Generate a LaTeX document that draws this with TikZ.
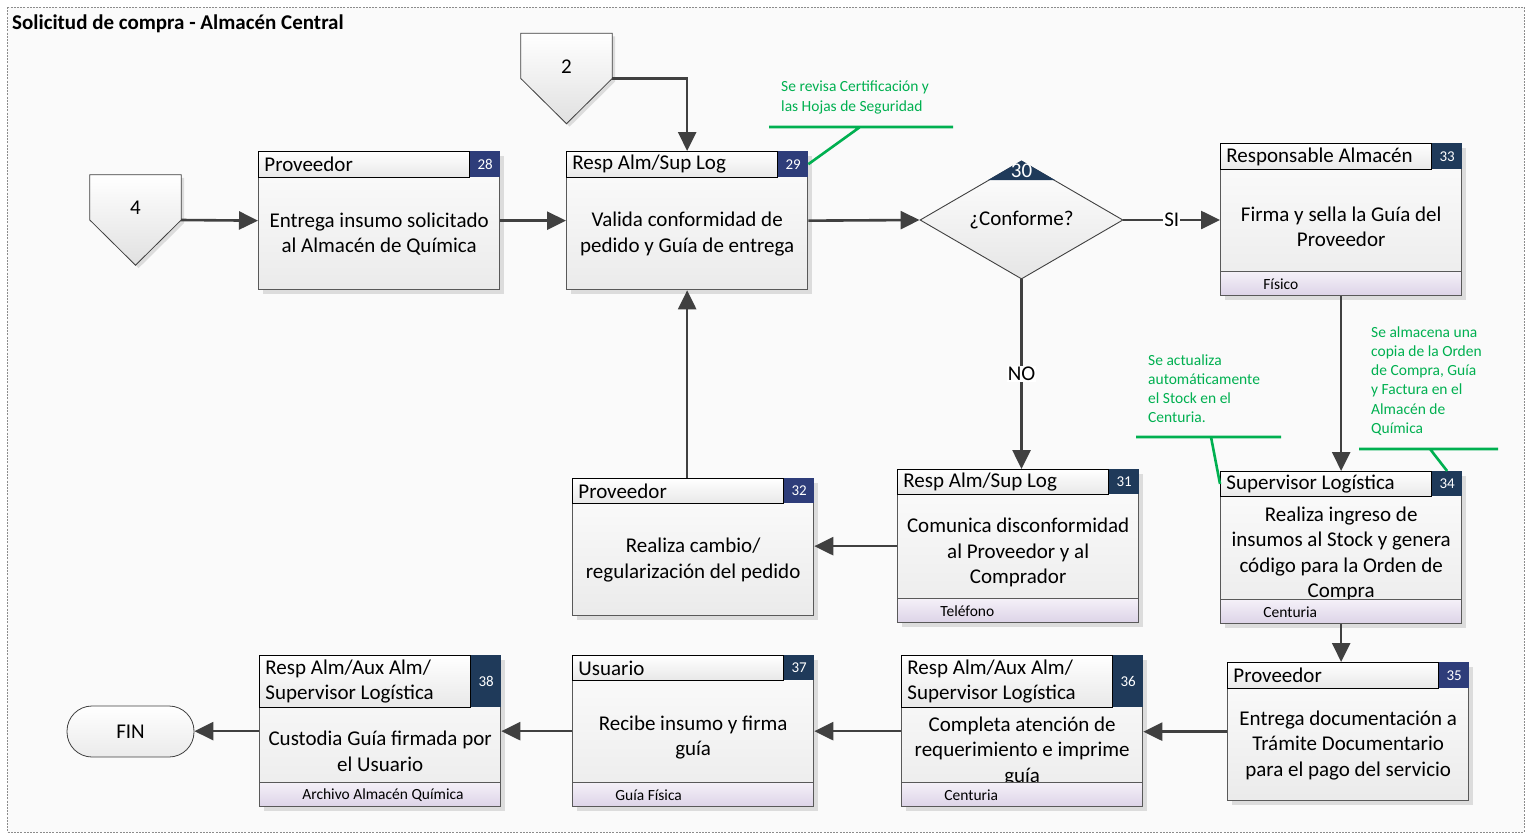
\documentclass[tikz,border=0pt]{standalone}
\usepackage{fontspec}
\setmainfont{Carlito}
\usetikzlibrary{positioning,calc,arrows.meta,shapes.geometric,shadows}

\definecolor{linea}{HTML}{404040}
\definecolor{borde}{HTML}{595959}
\definecolor{numazul}{HTML}{2E3D7A}
\definecolor{numnavy}{HTML}{1F3A5A}
\definecolor{verde}{HTML}{00B050}
\definecolor{lila1}{HTML}{F4F0F8}
\definecolor{lila2}{HTML}{DCD3E7}

\newcommand{\actividad}[9]{%
  \node[caja, minimum height=#3, anchor=north west] (#1) at (#2) {};
  \node[titulo, minimum height=#4, anchor=north west] (#1-tit) at (#1.north west) {#7};
  \node[numero, fill=#6, minimum height=#4, anchor=north east] (#1-num) at (#1.north east) {#5};
  \if\relax\detokenize{#9}\relax
    \node[texto] (#1-txt) at ($(#1-tit.south -| #1.center)!0.5!(#1.south)$) {#8};
  \else
    \node[texto, yshift=6.5pt] (#1-txt) at ($(#1-tit.south -| #1.center)!0.5!(#1.south)$) {#8};
    \node[pie, anchor=south] (#1-pie) at (#1.south) {};
    \node[soporte, anchor=west] (#1-sop) at ([xshift=43pt]#1-pie.west) {#9};
  \fi}

\newcommand{\conector}[3]{%
  \node[conector] (#1) at (#2) {};
  \path[pentagono] (#1.north west) -- (#1.north east) -- (#1.east) -- (#1.south) -- (#1.west) -- cycle;
  \node[grande] (#1-num) at ([yshift=12pt]#1.center) {#3};}

\begin{document}
\begin{tikzpicture}[x=1pt, y=-1pt,
    grande/.style={font=\fontsize{21}{25.5}\selectfont, inner sep=0pt},
    caja/.style={draw=borde, line width=1.3pt, top color=black!1, bottom color=black!8,
      minimum width=241pt, inner sep=0pt,
      drop shadow={shadow xshift=4pt, shadow yshift=-4pt, fill=black!25, opacity=0.5}},
    titulo/.style={draw=black, line width=0.8pt, top color=white, bottom color=black!9,
      text width=199pt, inner xsep=6pt, inner ysep=0pt, align=flush left, font=\fontsize{21}{25}\selectfont},
    numero/.style={minimum width=30pt, inner sep=0pt, text=white, font=\fontsize{15}{18}\selectfont},
    texto/.style={font=\fontsize{21}{25.5}\selectfont, align=center, inner sep=0pt},
    pie/.style={draw=borde, line width=1pt, top color=lila1, bottom color=lila2,
      minimum width=241pt, minimum height=24pt, inner sep=0pt},
    soporte/.style={font=\fontsize{15.5}{18}\selectfont, inner sep=0pt},
    conector/.style={minimum width=91pt, minimum height=90pt, inner sep=0pt},
    pentagono/.style={draw=linea, line width=0.8pt, top color=white, bottom color=black!12,
      drop shadow={shadow xshift=3pt, shadow yshift=-3pt, fill=black!25, opacity=0.5}},
    decision/.style={diamond, aspect=1.7, draw=linea, line width=0.9pt, top color=white,
      bottom color=black!10, minimum width=203pt, minimum height=118pt, inner sep=0pt,
      font=\fontsize{21}{25.5}\selectfont},
    fin/.style={draw=linea, line width=0.8pt, rounded corners=25pt, top color=white,
      bottom color=black!8, minimum width=127pt, minimum height=51pt, font=\fontsize{21}{25.5}\selectfont},
    flecha/.style={draw=linea, line width=2.6pt, -{Triangle[length=19pt,width=18pt]}},
    etiqueta/.style={fill=white, inner sep=1pt, font=\fontsize{21}{25.5}\selectfont},
    nota/.style={text=verde, font=\fontsize{15.5}{19.2}\selectfont, align=left, inner sep=0pt, anchor=west},
    guia/.style={draw=verde, line width=2.6pt},
    marco/.style={draw=black!45, dash pattern=on 2pt off 1.2pt, line width=0.8pt, fill=black!2}]

  \useasboundingbox[fill=white] (0,0) rectangle (1529,836);
  \draw[marco] (7,7) rectangle (1524,832);
  \node[anchor=west, inner sep=0pt, font=\bfseries\fontsize{21}{25}\selectfont] (cabecera) at (12,24)
    {Solicitud de compra - Almacén Central};

  \conector{c4}{135.5,220}{4}
  \conector{c2}{566.5,78.5}{2}

  \actividad{b28}{258,151}{138pt}{26pt}{28}{numazul}{Proveedor}
    {Entrega insumo solicitado\\al Almacén de Química}{}
  \actividad{b29}{566,151}{138pt}{26pt}{29}{numazul}{Resp Alm/Sup Log}
    {Valida conformidad de\\pedido y Guía de entrega}{}
  \actividad{b33}{1220,143}{152pt}{26pt}{33}{numnavy}{Responsable Almacén}
    {Firma y sella la Guía del\\Proveedor}{Físico}
  \actividad{b31}{897,469}{153pt}{25pt}{31}{numnavy}{Resp Alm/Sup Log}
    {Comunica disconformidad\\al Proveedor y al\\Comprador}{Teléfono}
  \actividad{b34}{1220,471}{152pt}{25pt}{34}{numnavy}{Supervisor Logística}
    {Realiza ingreso de\\insumos al Stock y genera\\código para la Orden de\\Compra}{Centuria}
  \actividad{b32}{572,478}{137pt}{25pt}{32}{numazul}{Proveedor}
    {Realiza cambio/\\regularización del pedido}{}
  \actividad{b35}{1227,662}{138pt}{26pt}{35}{numazul}{Proveedor}
    {Entrega documentación a\\Trámite Documentario\\para el pago del servicio}{}
  \actividad{b36}{901,655}{151pt}{52pt}{36}{numnavy}{Resp Alm/Aux Alm/\\Supervisor Logística}
    {Completa atención de\\requerimiento e imprime\\guía}{Centuria}
  \actividad{b37}{572,655}{151pt}{25pt}{37}{numnavy}{Usuario}
    {Recibe insumo y firma\\guía}{Guía Física}
  \actividad{b38}{259,655}{151pt}{52pt}{38}{numnavy}{Resp Alm/Aux Alm/\\Supervisor Logística}
    {Custodia Guía firmada por\\el Usuario}{Archivo Almacén Química}

  \node[decision] (dec) at (1021.5,220) {¿Conforme?};
  \fill[numnavy] (dec.north) -- ($(dec.north)!0.33!(dec.west)$) -- ($(dec.north)!0.33!(dec.east)$) -- cycle;
  \node[grande, text=white] (dec-num) at ([yshift=-10pt]dec.north) {30};

  \node[fin] (fin) at (130.5,731.5) {FIN};

  \draw[flecha] (c4.east) -- (b28.west);
  \draw[flecha] (b28.east) -- (b29.west);
  \draw[flecha] (c2.east) -| (b29.north);
  \draw[flecha] (b29.east) -- (dec.west);
  \draw[flecha] (dec.east) -- node[etiqueta] {SI} (dec.east -| b33.west);
  \draw[flecha] (dec.south) -- node[etiqueta] {NO} (dec.south |- b31.north);
  \draw[flecha] (b33.south) -- (b34.north);
  \draw[flecha] (b31.west) -- (b31.west -| b32.east);
  \draw[flecha] (b29.south |- b32.north) -- (b29.south);
  \draw[flecha] (b34.south) -- (b34.south |- b35.north);
  \draw[flecha] (b35.west) -- (b35.west -| b36.east);
  \draw[flecha] (b36.west) -- (b36.west -| b37.east);
  \draw[flecha] (b37.west) -- (b37.west -| b38.east);
  \draw[flecha] (b38.west) -- (b38.west -| fin.east);

  \node[nota] (nota1) at (781,97.5) {Se revisa Certificación y\\las Hojas de Seguridad};
  \coordinate (n1i) at (769,127);
  \coordinate (n1d) at (953,127);
  \coordinate (n1q) at (860,127);
  \draw[guia] (n1i) -- (n1d) (n1q) -- (b29-num.east);

  \node[nota] (nota2) at (1148,388.5) {Se actualiza\\automáticamente\\el Stock en el\\Centuria.};
  \coordinate (n2i) at (1136,437);
  \coordinate (n2d) at (1281,437);
  \coordinate (n2q) at (1211,437);
  \draw[guia] (n2i) -- (n2d) (n2q) -- (b34-tit.west);

  \node[nota] (nota3) at (1371,381) {Se almacena una\\copia de la Orden\\de Compra, Guía\\y Factura en el\\Almacén de\\Química};
  \coordinate (n3i) at (1359,449);
  \coordinate (n3d) at (1498,449);
  \coordinate (n3q) at (1430,449);
  \draw[guia] (n3i) -- (n3d) (n3q) -- (b34-num.north);
\end{tikzpicture}
\end{document}
